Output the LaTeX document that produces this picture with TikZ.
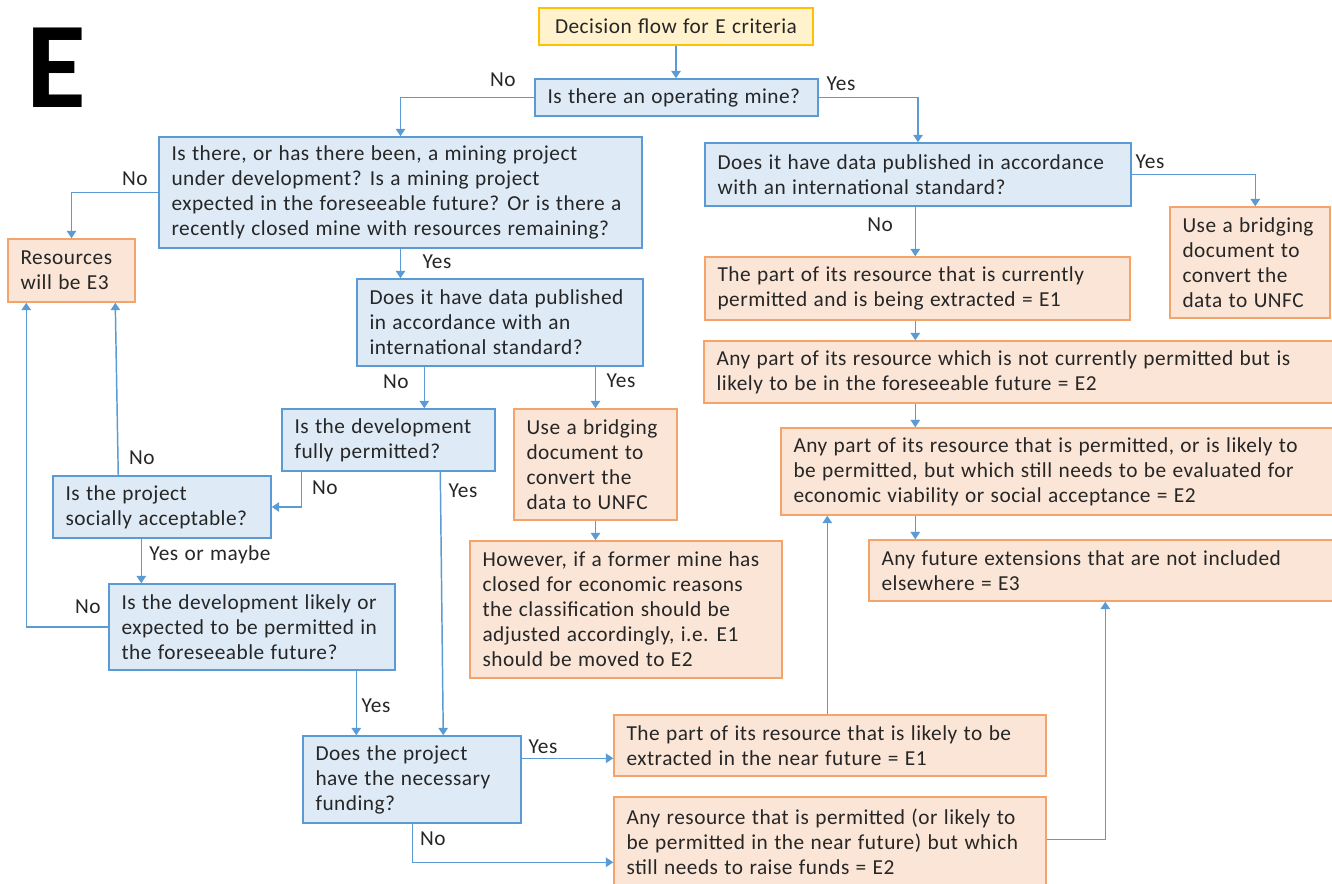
\documentclass[tikz,border=0pt]{standalone}
\usepackage{fontspec}
\setmainfont{Carlito}[WordSpace=1.2,LetterSpace=2.3]
\newfontfamily\bigfont{Carlito}[Scale=1]
\usetikzlibrary{arrows.meta,calc}
\definecolor{bfill}{HTML}{DEEBF7}
\definecolor{bline}{HTML}{5B9BD5}
\definecolor{ofill}{HTML}{FBE5D6}
\definecolor{oline}{HTML}{F4A46A}
\definecolor{yfill}{HTML}{FFF2CC}
\definecolor{yline}{HTML}{FFC000}
\definecolor{txt}{HTML}{262626}
\newcommand{\mkbox}[7]{%
  \pgfmathsetmacro\bw{0.75*(#5-#3)}%
  \pgfmathsetmacro\bh{0.75*(#6-#4)}%
  \pgfmathsetmacro\cx{(#3+#5)/2}%
  \pgfmathsetmacro\cy{(#4+#6)/2}%
  \node[#2, minimum width=\bw pt, minimum height=\bh pt] (#1) at (\cx,\cy) {};
  \node[boxtext, anchor=west] (#1-t) at ($(#1.west)+(13,0)$) {#7};}
\tikzset{
  box/.style={draw, line width=1.1pt, inner sep=0pt},
  boxtext/.style={align=left, inner sep=0pt, font=\fontsize{16}{18.75}\selectfont, text=txt},
  bluebox/.style={box, fill=bfill, draw=bline},
  orgbox/.style={box, fill=ofill, draw=oline},
  ylwbox/.style={box, fill=yfill, draw=yline, font=\fontsize{16}{18.75}\selectfont, text=txt},
  conn/.style={draw=bline, line width=1.1pt, -{Triangle[width=7pt,length=5.5pt]}},
  lbl/.style={font=\fontsize{16}{18.75}\selectfont, text=txt, inner sep=0pt},
}
\begin{document}
\begin{tikzpicture}[x=0.75pt,y=-0.75pt]
\useasboundingbox (0,0) rectangle (1332,883);
\clip (0,0) rectangle (1332,883);
\node[font=\bigfont\fontsize{92}{92}\selectfont\bfseries, inner sep=0pt] (bigE) at (56,68) {E};
% boxes
\node[ylwbox, minimum width=205.5pt, minimum height=27.75pt] (title) at (676,26.5) {Decision flow for E criteria};
\mkbox{op}{bluebox}{535}{79}{818}{116}{Is there an operating mine?}
\mkbox{q1}{bluebox}{159}{137}{642}{248}{Is there, or has there been, a mining project\\under development? Is a mining project\\expected in the foreseeable future? Or is there a\\recently closed mine with resources remaining?}
\mkbox{res}{orgbox}{8}{239}{135}{302}{Resources\\will be E3}
\mkbox{q2}{bluebox}{357}{279}{643}{366}{Does it have data published\\in accordance with an\\international standard?}
\mkbox{perm}{bluebox}{282}{409}{495}{471}{Is the development\\fully permitted?}
\mkbox{soc}{bluebox}{53}{476}{271}{538}{Is the project\\socially acceptable?}
\mkbox{lik}{bluebox}{109}{584}{395}{670}{Is the development likely or\\expected to be permitted in\\the foreseeable future?}
\mkbox{brA}{orgbox}{514}{409}{677}{520}{Use a bridging\\document to\\convert the\\data to UNFC}
\mkbox{how}{orgbox}{470}{541}{782}{678}{However, if a former mine has\\closed for economic reasons\\the classification should be\\adjusted accordingly, i.e. E1\\should be moved to E2}
\mkbox{fund}{bluebox}{303}{736}{521}{823}{Does the project\\have the necessary\\funding?}
\mkbox{eone}{orgbox}{614}{715}{1046}{776}{The part of its resource that is likely to be\\extracted in the near future = E1}
\mkbox{etwo}{orgbox}{614}{797}{1046}{887}{Any resource that is permitted (or likely to\\be permitted in the near future) but which\\still needs to raise funds = E2}
\mkbox{q3}{bluebox}{705}{143}{1131}{206}{Does it have data published in accordance\\with an international standard?}
\mkbox{brB}{orgbox}{1170}{207}{1330}{318}{Use a bridging\\document to\\convert the\\data to UNFC}
\mkbox{ecur}{orgbox}{705}{257}{1130}{320}{The part of its resource that is currently\\permitted and is being extracted = E1}
\mkbox{efore}{orgbox}{704}{341}{1345}{403}{Any part of its resource which is not currently permitted but is\\likely to be in the foreseeable future = E2}
\mkbox{eeval}{orgbox}{781}{428}{1345}{515}{Any part of its resource that is permitted, or is likely to\\be permitted, but which still needs to be evaluated for\\economic viability or social acceptance = E2}
\mkbox{eext}{orgbox}{869}{540}{1345}{601}{Any future extensions that are not included\\elsewhere = E3}
% helper coordinates
\coordinate (q2no) at ($(q2.south west)+(68,0)$);
\coordinate (permno) at ($(perm.south west)+(20,0)$);
\coordinate (permyes) at ($(perm.south west)+(159,0)$);
\coordinate (fundin) at ($(fund.north west)+(141,0)$);
\coordinate (socno) at ($(soc.north west)+(66,0)$);
\coordinate (resin1) at ($(res.south west)+(108,0)$);
\coordinate (resin2) at ($(res.south west)+(19,0)$);
\coordinate (socyes) at ($(soc.south west)+(89,0)$);
\coordinate (likyes) at ($(lik.south west)+(248,0)$);
\coordinate (fundyes) at ($(fund.north east)+(0,23)$);
\coordinate (fundno) at ($(fund.south west)+(110,0)$);
\coordinate (etwoin) at ($(etwo.north west)+(0,66)$);
\coordinate (eoneup) at ($(eone.north west)+(214,0)$);
\coordinate (etwoout) at ($(etwo.north east)+(0,43)$);
\coordinate (eextin) at ($(eext.south west)+(237,0)$);
\coordinate (brBin) at ($(brB.north west)+(86,0)$);
\coordinate (rcol) at ($(ecur.south west)+(211,0)$);
% connectors
\draw[conn] (title.south) -- (title.south |- op.north);
\draw[conn] (op.west) -| (q1.north);
\draw[conn] (op.east) -| (q3.north);
\draw[conn] (q1.west) -| (res.north);
\draw[conn] (q1.south) -- (q1.south |- q2.north);
\draw[conn] (q2no) -- (q2no |- perm.north);
\draw[conn] (brA.north |- q2.south) -- (brA.north);
\draw[conn] (brA.south) -- (brA.south |- how.north);
\draw[conn] (permno) |- (soc.east);
\draw[conn] (permyes) -- (fundin);
\draw[conn] (socno) -- (resin1);
\draw[conn] (socyes) -- (socyes |- lik.north);
\draw[conn] (lik.west) -| (resin2);
\draw[conn] (likyes) -- (likyes |- fund.north);
\draw[conn] (fundyes) -- (fundyes -| eone.west);
\draw[conn] (fundno) |- (etwoin);
\draw[conn] (eoneup) -- (eoneup |- eeval.south);
\draw[conn] (etwoout) -| (eextin);
\draw[conn] (q3.east) -| (brBin);
\draw[conn] (rcol |- q3.south) -- (rcol |- ecur.north);
\draw[conn] (rcol) -- (rcol |- efore.north);
\draw[conn] (rcol |- efore.south) -- (rcol |- eeval.north);
\draw[conn] (rcol |- eeval.south) -- (rcol |- eext.north);
% labels
\node[lbl] (l1) at (503,80) {No};
\node[lbl] (l2) at (841,84) {Yes};
\node[lbl] (l3) at (135,179) {No};
\node[lbl] (l4) at (437,262) {Yes};
\node[lbl] (l5) at (396,382) {No};
\node[lbl] (l6) at (621,381) {Yes};
\node[lbl] (l7) at (325,488) {No};
\node[lbl] (l8) at (463,491) {Yes};
\node[lbl] (l9) at (142,458) {No};
\node[lbl] (l10) at (210,555) {Yes or maybe};
\node[lbl] (l11) at (88,607) {No};
\node[lbl] (l12) at (376,706) {Yes};
\node[lbl] (l13) at (543,747) {Yes};
\node[lbl] (l14) at (433,839) {No};
\node[lbl] (l15) at (1150,162) {Yes};
\node[lbl] (l16) at (880,225) {No};
\end{tikzpicture}
\end{document}
